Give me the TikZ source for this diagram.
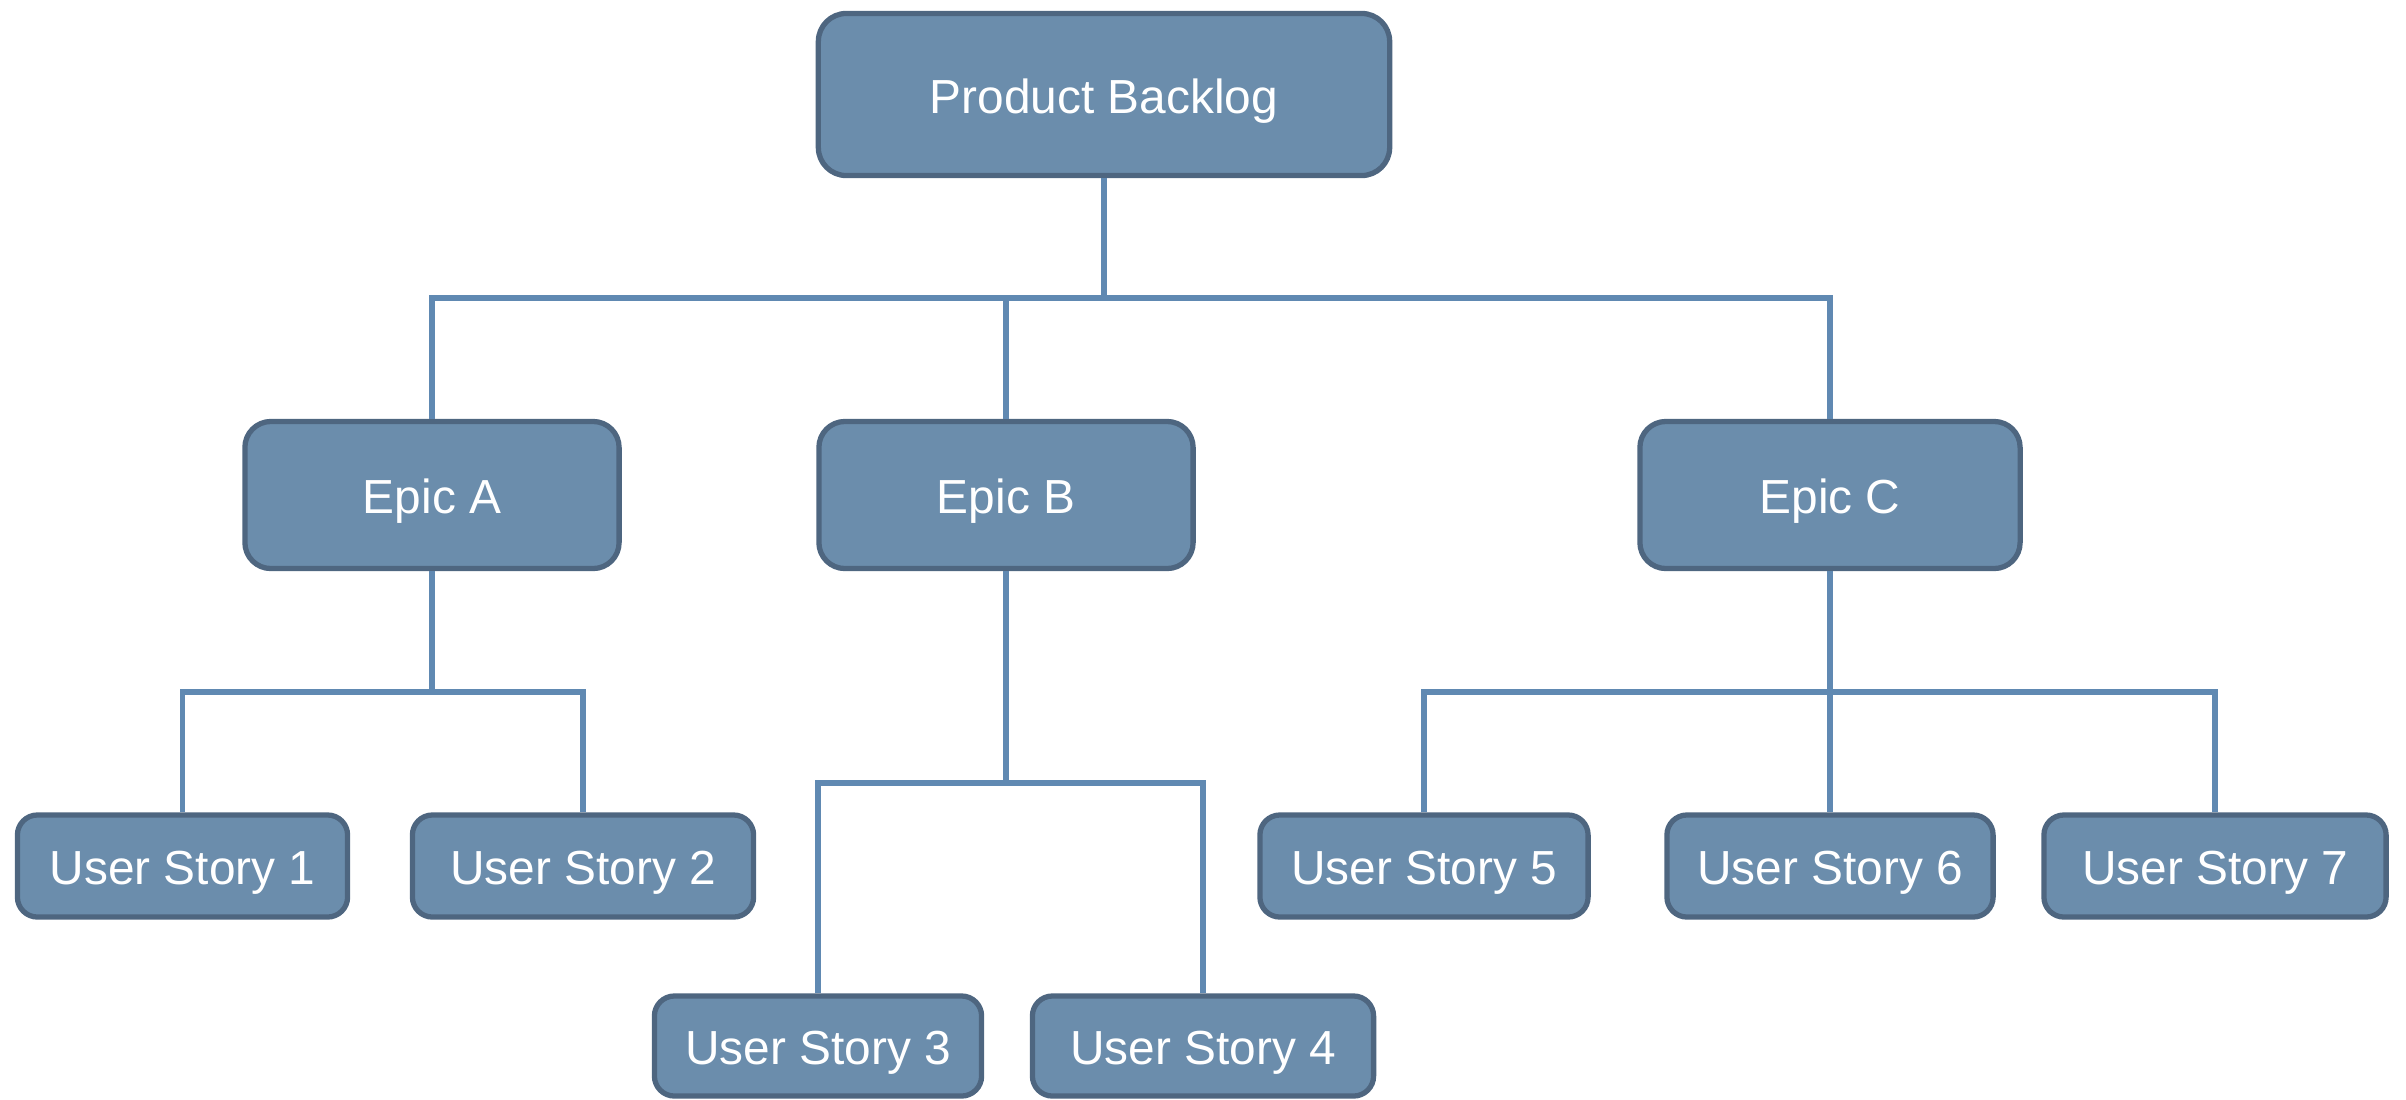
\documentclass[tikz,border=0pt]{standalone}
\usepackage{fontspec}
\setmainfont{Liberation Sans}
\definecolor{boxfill}{RGB}{107,141,172}
\definecolor{boxline}{RGB}{78,102,128}
\definecolor{conn}{RGB}{96,137,178}
\tikzset{
  box/.style={draw=boxline, fill=boxfill, line width=1.5pt, rounded corners=0.2cm,
    text=white, font=\fontsize{13.6}{16}\selectfont, inner sep=0pt, align=center,
    text height=10.6pt, text depth=0pt},
  pbbox/.style={box, minimum width=5.71cm, minimum height=1.62cm, rounded corners=0.28cm},
  epicbox/.style={box, minimum height=1.47cm, rounded corners=0.26cm},
  storybox/.style={box, minimum height=1.02cm, rounded corners=0.2cm},
  link/.style={draw=conn, line width=1.7pt}
}
\begin{document}
\begin{tikzpicture}[x=0.01cm, y=-0.01cm]
\useasboundingbox (0,0) rectangle (2406,1099);
% nodes
\node[pbbox] (pb) at (1104,94.5) {Product Backlog};
\node[epicbox, minimum width=3.74cm] (ea) at (432,495) {Epic A};
\node[epicbox, minimum width=3.74cm] (eb) at (1006,495) {Epic B};
\node[epicbox, minimum width=3.80cm] (ec) at (1830,495) {Epic C};
\node[storybox, minimum width=3.30cm] (us1) at (182.5,866) {User Story 1};
\node[storybox, minimum width=3.41cm] (us2) at (583,866) {User Story 2};
\node[storybox, minimum width=3.27cm, minimum height=1.00cm] (us3) at (818,1046) {User Story 3};
\node[storybox, minimum width=3.41cm, minimum height=1.00cm] (us4) at (1203,1046) {User Story 4};
\node[storybox, minimum width=3.28cm] (us5) at (1424,866) {User Story 5};
\node[storybox, minimum width=3.26cm] (us6) at (1830,866) {User Story 6};
\node[storybox, minimum width=3.42cm] (us7) at (2215,866) {User Story 7};
% junctions
\coordinate (j0) at (1104,298);
\coordinate (ja) at (432,692);
\coordinate (jb) at (1006,783);
\coordinate (jc) at (1830,692);
% connectors
\draw[link] (pb.south) -- (j0);
\draw[link] (ea.north) |- (j0) -| (ec.north);
\draw[link] (eb.north) -- (eb.north |- j0);
\draw[link] (ea.south) -- (ja);
\draw[link] (us1.north) |- (ja) -| (us2.north);
\draw[link] (eb.south) -- (jb);
\draw[link] (us3.north) |- (jb) -| (us4.north);
\draw[link] (ec.south) -- (us6.north);
\draw[link] (us5.north) |- (jc) -| (us7.north);
\end{tikzpicture}
\end{document}
